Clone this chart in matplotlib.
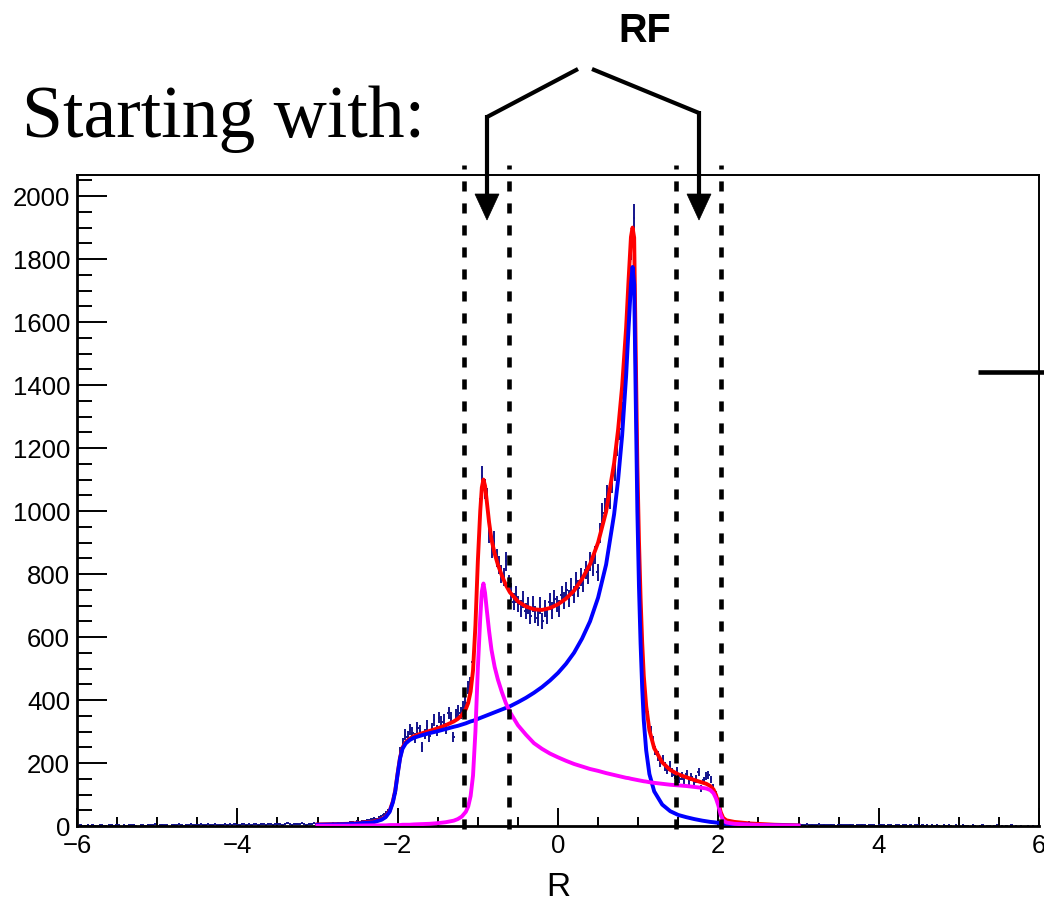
import numpy as np
import matplotlib
matplotlib.use("Agg")
import matplotlib.pyplot as plt
from matplotlib.lines import Line2D
from matplotlib.patches import Polygon
from matplotlib.ticker import MultipleLocator

# ---------------------------------------------------------------- data
# histogram binning: 400 bins of 0.03 over [-6, 6]
hist_lo, hist_hi, hist_nbins = -6.0, 6.0, 400

# counts for x in [-6.0, -3.0)
counts_far_left = [0, 2, 1, 0, 3, 1, 2, 0, 1, 2, 3, 1, 0, 2, 4, 1, 2, 3, 0, 2,
                   1, 3, 2, 4, 1, 0, 3, 2, 1, 4, 2, 3, 5, 1, 2, 4, 3, 2, 0, 3,
                   4, 2, 5, 3, 1, 4, 2, 6, 3, 2, 4, 5, 2, 3, 6, 4, 3, 5, 2, 4,
                   3, 6, 4, 5, 2, 7, 4, 3, 6, 5, 4, 6, 3, 5, 7, 4, 6, 5, 3, 6,
                   5, 4, 7, 6, 5, 3, 6, 8, 5, 4, 6, 7, 5, 8, 6, 4, 7, 6, 8, 5]
# counts for x in [-3.0, -2.1)
counts_left = [5, 3, 6, 4, 7, 5, 8, 6, 9, 7, 8, 10, 9, 11, 12, 10, 14, 13, 16, 15,
               18, 17, 21, 24, 22, 28, 30, 36, 40, 48]
# counts for x in [-2.1, 2.1)
counts_core = [55, 90, 112, 178, 236, 262, 290, 284, 305, 296,
               280, 312, 302, 252, 292, 318, 285, 310, 336, 304,
               344, 330, 338, 310, 358, 342, 283, 352, 366, 360,
               378, 392, 440, 452, 520, 610, 800, 1010, 1110, 1070,
               1040, 930, 880, 905, 850, 830, 800, 790, 840, 770,
               745, 712, 735, 705, 690, 720, 682, 700, 668, 705,
               672, 660, 700, 650, 690, 668, 712, 685, 722, 705,
               690, 735, 715, 748, 722, 760, 735, 778, 755, 790,
               770, 812, 795, 840, 822, 860, 805, 930, 995, 1010,
               1050, 1040, 1090, 1130, 1210, 1260, 1310, 1420, 1560, 1730,
               1840, 1930, 1460, 980, 700, 520, 380, 345, 300, 268,
               240, 222, 200, 212, 190, 178, 192, 170, 162, 175,
               150, 158, 147, 165, 142, 156, 138, 150, 172, 118,
               145, 160, 162, 148, 122, 102, 70, 42, 25, 18]
# counts for x in [2.1, 3.0)
counts_right = [16, 14, 15, 12, 13, 11, 12, 10, 9, 11, 8, 9, 7, 8, 6, 7, 6, 5, 6, 4,
                5, 4, 5, 3, 4, 3, 4, 3, 2, 3]
# counts for x in [3.0, 6.0)
counts_far_right = [3, 4, 2, 5, 3, 4, 2, 3, 5, 2, 4, 3, 2, 4, 3, 1, 3, 4, 2, 3,
                    2, 4, 3, 1, 2, 3, 4, 2, 1, 3, 2, 3, 1, 2, 4, 2, 1, 3, 2, 1,
                    3, 2, 1, 2, 3, 1, 2, 0, 2, 3, 1, 2, 1, 3, 0, 2, 1, 2, 1, 0,
                    2, 1, 3, 1, 0, 2, 1, 0, 2, 1, 1, 0, 2, 1, 0, 1, 2, 0, 1, 1,
                    0, 1, 2, 0, 1, 0, 1, 0, 2, 0, 1, 0, 1, 0, 0, 1, 0, 1, 0, 1]

# fitted curves, sampled on [-3, 3]
curve_x = [-3.0, -2.6, -2.3, -2.2, -2.15, -2.1, -2.06, -2.03, -2.0, -1.97,
           -1.94, -1.9, -1.85, -1.8, -1.7, -1.6, -1.5, -1.4, -1.3, -1.25,
           -1.2, -1.15, -1.12, -1.09, -1.06, -1.03, -1.0, -0.97, -0.95, -0.93,
           -0.91, -0.89, -0.86, -0.83, -0.79, -0.75, -0.7, -0.65, -0.6, -0.5,
           -0.4, -0.3, -0.2, -0.1, 0.0, 0.1, 0.2, 0.3, 0.4, 0.5,
           0.6, 0.7, 0.75, 0.8, 0.85, 0.88, 0.91, 0.93, 0.95, 0.97,
           0.99, 1.01, 1.03, 1.05, 1.07, 1.1, 1.14, 1.2, 1.3, 1.4,
           1.5, 1.6, 1.7, 1.8, 1.85, 1.9, 1.94, 1.97, 2.0, 2.03,
           2.06, 2.1, 2.2, 2.4, 2.7, 3.0]
blue_y = [4, 6, 12, 20, 28, 45, 75, 110, 165, 215,
          245, 262, 273, 280, 288, 295, 301, 308, 315, 318,
          322, 326, 329, 332, 334, 337, 340, 343, 345, 347,
          349, 351, 354, 357, 361, 365, 370, 375, 380, 393,
          407, 423, 441, 462, 486, 515, 550, 595, 650, 725,
          830, 990, 1100, 1240, 1430, 1580, 1720, 1775, 1720, 1350,
          1000, 760, 580, 440, 335, 240, 165, 110, 68, 47,
          35, 28, 22, 17, 15, 13, 12, 11, 10, 9,
          8, 7, 6, 4, 2, 1]
magenta_y = [1, 1, 2, 2, 2, 3, 3, 3, 3, 3,
             4, 4, 4, 5, 6, 7, 9, 12, 17, 22,
             30, 45, 62, 95, 160, 300, 500, 660, 745, 770,
             740, 690, 620, 560, 505, 465, 425, 390, 362, 320,
             290, 263, 245, 230, 218, 207, 197, 189, 181, 175,
             168, 162, 159, 156, 153, 152, 150, 149, 148, 147,
             146, 145, 144, 143, 142, 141, 139, 137, 134, 131,
             129, 127, 124, 121, 119, 114, 104, 88, 65, 35,
             18, 11, 7, 4, 2, 1]
red_y = [5, 7, 14, 22, 30, 48, 78, 113, 168, 218,
         249, 266, 277, 285, 294, 302, 310, 320, 332, 340,
         352, 371, 391, 427, 494, 637, 840, 1000, 1075, 1100,
         1080, 1035, 965, 910, 865, 830, 795, 765, 742, 713,
         697, 688, 686, 692, 704, 722, 747, 784, 831, 900,
         998, 1152, 1259, 1396, 1583, 1732, 1870, 1900, 1868, 1497,
         1146, 905, 724, 583, 477, 381, 304, 247, 202, 178,
         164, 155, 146, 138, 134, 127, 116, 99, 75, 44,
         26, 18, 13, 8, 4, 2]

# region boundaries marked with dashed lines
region_edges = [-1.17, -0.61, 1.47, 2.03]

# --------------------------------------------------------------- figure
W, H = 1044, 909
fig = plt.figure(figsize=(W / 100, H / 100), dpi=100)
ax = fig.add_axes([77 / W, 1 - 826 / H, (1039 - 77) / W, (826 - 175) / H])

sans = "Liberation Sans"
serif = "Liberation Serif"

counts = np.array(counts_far_left + counts_left + counts_core
                  + counts_right + counts_far_right, dtype=float)
edges = np.linspace(hist_lo, hist_hi, hist_nbins + 1)
centers = 0.5 * (edges[:-1] + edges[1:])
half_w = 0.5 * (edges[1] - edges[0])
nz = counts > 0

data_color = "#14148c"
ax.errorbar(centers[nz], counts[nz], yerr=np.sqrt(counts[nz]), xerr=half_w,
            fmt="none", ecolor=data_color, elinewidth=1.4, capsize=0, zorder=2)

curve_lw = 2.8
ax.plot(curve_x, red_y, color="#ff0000", lw=curve_lw, zorder=3,
        solid_joinstyle="round")
ax.plot(curve_x, blue_y, color="#0000ff", lw=curve_lw, zorder=4,
        solid_joinstyle="round")
ax.plot(curve_x, magenta_y, color="#ff00ff", lw=curve_lw, zorder=5,
        solid_joinstyle="round")

for xe in region_edges:
    ax.plot([xe, xe], [-8, 2100], color="black", lw=3.3,
            dashes=(2.2, 2.6), clip_on=False, zorder=6)

ax.set_xlim(-6, 6)
ax.set_ylim(0, 2067)
ax.set_xticks(np.arange(-6, 7, 2))
ax.xaxis.set_minor_locator(MultipleLocator(0.5))
ax.set_yticks(np.arange(0, 2001, 200))
ax.yaxis.set_minor_locator(MultipleLocator(50))

ax.tick_params(axis="both", which="both", direction="in",
               top=False, right=False, labelsize=18.5, color="black")
ax.tick_params(axis="y", which="major", length=21.6, width=1.4, pad=5)
ax.tick_params(axis="y", which="minor", length=10.8, width=1.4)
ax.tick_params(axis="x", which="major", length=13, width=1.4, pad=6)
ax.tick_params(axis="x", which="minor", length=6.5, width=1.4)
for lab in ax.get_xticklabels() + ax.get_yticklabels():
    lab.set_fontfamily(sans)

for side in ("left", "bottom"):
    ax.spines[side].set_linewidth(2.0)
for side in ("top", "right"):
    ax.spines[side].set_linewidth(1.4)

ax.set_xlabel("R", fontsize=24, fontfamily=sans, labelpad=10)

# ------------------------------------------------------- annotations
def fpt(px, py):
    return px / W, 1 - py / H

def fig_line(p0, p1, lw):
    (x0, y0), (x1, y1) = fpt(*p0), fpt(*p1)
    fig.add_artist(Line2D([x0, x1], [y0, y1], transform=fig.transFigure,
                          color="black", lw=lw, solid_capstyle="butt"))

def fig_head(cx, tip_y, half, length):
    pts = [fpt(cx - half, tip_y - length), fpt(cx + half, tip_y - length),
           fpt(cx, tip_y)]
    fig.add_artist(Polygon(pts, closed=True, transform=fig.transFigure,
                           facecolor="black", edgecolor="black", lw=0.5))

fig.text(*fpt(22, 137), "Starting with:", fontsize=53, fontfamily=serif,
         ha="left", va="baseline")
fig.text(*fpt(645, 31), "RF", fontsize=28.5, fontweight="bold",
         fontfamily=sans, ha="center", va="center")

fig_line((487, 117), (578, 69), 3.0)
fig_line((592, 69), (699, 113), 3.0)
fig_line((487, 115), (487, 198), 3.0)
fig_line((699, 111), (699, 198), 3.0)
fig_head(487, 220, 12, 26)
fig_head(699, 220, 12, 26)
fig_line((978, 372), (1044, 372), 3.3)

fig.savefig("out.png", dpi=100)
